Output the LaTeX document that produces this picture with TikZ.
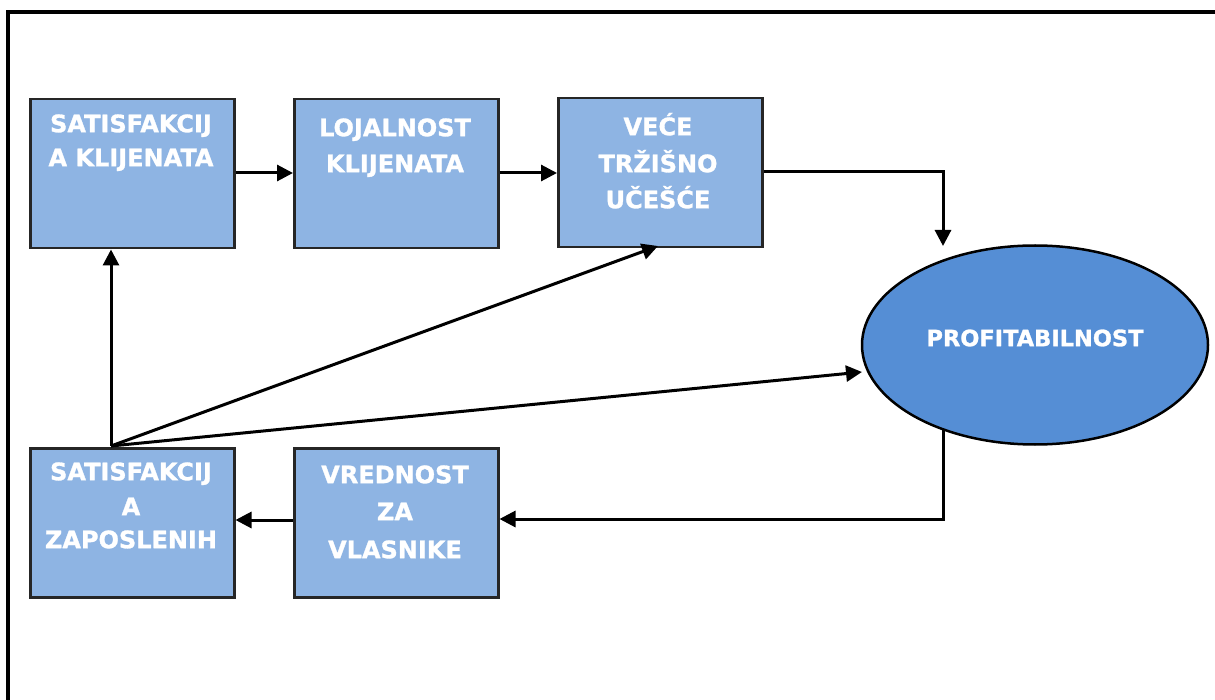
\documentclass[tikz,border=0pt]{standalone}
\usepackage{fontspec}
\setmainfont{DejaVu Sans}
\newfontfamily\heavyfont{DejaVu Sans Bold}[FakeBold=1.2]
\usetikzlibrary{shapes.geometric,arrows.meta}
\definecolor{boxblue}{RGB}{142,180,227}
\definecolor{ovalblue}{RGB}{85,142,213}
\tikzset{
  stepbox/.style={draw=black!85, line width=2.5pt, fill=boxblue, rectangle,
    minimum width=204pt, minimum height=149pt, inner sep=0pt, anchor=north west},
  oval/.style={draw=black, line width=2.5pt, fill=ovalblue, ellipse,
    minimum width=346pt, minimum height=199pt, inner sep=0pt},
  lbl/.style={text=white, font=\heavyfont\fontsize{24}{36}\selectfont,
    align=center, inner sep=0pt, anchor=north},
  flow/.style={draw=black, line width=3pt,
    -{Triangle[length=16pt,width=16pt]}},
  frame/.style={draw=black, line width=3.5pt}
}
\newcommand{\toprule}{\rule{0pt}{24pt}}
\begin{document}
\begin{tikzpicture}[x=1pt,y=-1pt]
  \useasboundingbox (0,0) rectangle (1215,700);
  % outer frame, running past the right and bottom edges
  \draw[frame] (8,12) rectangle (1240,720);

  % boxes
  \node[stepbox] (sk) at (29,98) {};
  \node[stepbox] (lk) at (293,98) {};
  \node[stepbox] (vt) at (557,97) {};
  \node[stepbox] (sz) at (29,447) {};
  \node[stepbox] (vv) at (293,447) {};
  \node[oval] (pr) at (1035,345) {};

  % labels
  \node[lbl] (tsk) at (131,108) {\toprule SATISFAKCIJ\\[-2pt]A KLIJENATA};
  \node[lbl] (tlk) at (395,112) {\toprule LOJALNOST\\KLIJENATA};
  \node[lbl] (tvt) at (658,111) {\toprule VEĆE\\[1pt]TRŽIŠNO\\UČEŠĆE};
  \node[lbl] (tsz) at (131,456) {\toprule SATISFAKCIJ\\[-1pt]A\\[-3pt]ZAPOSLENIH};
  \node[lbl] (tvv) at (395,459) {\toprule VREDNOST\\[1pt]ZA\\[2pt]VLASNIKE};
  \node[text=white, font=\heavyfont\fontsize{22.5}{27}\selectfont, inner sep=0pt]
    (tpr) at (1035,338) {PROFITABILNOST};

  % helper points
  \coordinate (src) at (111,446);
  \coordinate (vtTurn) at (943,172);
  \coordinate (prIn) at (943,246);
  \coordinate (prOut) at (943,430);
  \coordinate (prTurn) at (943,519);
  \coordinate (vtIn) at (658,246);
  \coordinate (prSide) at (862,372);

  % connectors
  \draw[flow] (sk.east |- 0,173) -- (lk.west |- 0,173);
  \draw[flow] (lk.east |- 0,173) -- (vt.west |- 0,173);
  \draw[flow] (vt.east |- vtTurn) -- (vtTurn) -- (prIn);
  \draw[flow] (prOut) -- (prTurn) -- (vv.east |- prTurn);
  \draw[flow] (vv.west |- 0,520) -- (sz.east |- 0,520);
  \draw[flow] (src) -- (src |- sk.south);
  \draw[flow] (src) -- (vtIn);
  \draw[flow] (src) -- (prSide);
\end{tikzpicture}
\end{document}
